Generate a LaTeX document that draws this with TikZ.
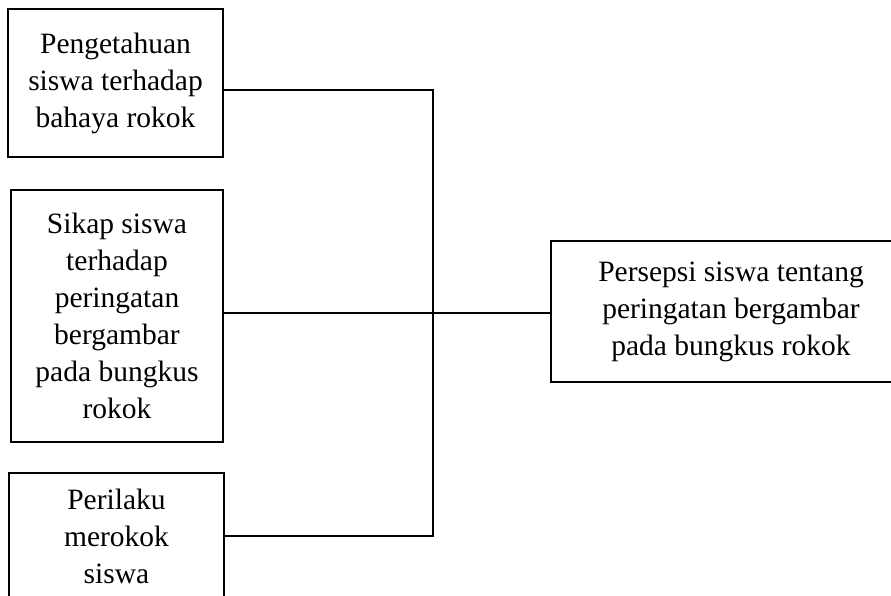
\documentclass[tikz,border=0pt]{standalone}
\usepackage{fontspec}
\setmainfont{Liberation Serif}
\begin{document}
\begin{tikzpicture}[x=1pt,y=-1pt,
  box/.style={draw,line width=1.2pt,align=center,inner sep=0pt,font=\fontsize{29.5}{37}\selectfont},
  conn/.style={line width=1.1pt}]
\useasboundingbox (0,0) rectangle (891,595);
\node[box, minimum width=215pt, minimum height=148pt] (b1) at (115.5,83) {Pengetahuan\\siswa terhadap\\bahaya rokok};
\node[box, minimum width=212pt, minimum height=252pt] (b2) at (117,316) {Sikap siswa\\terhadap\\peringatan\\bergambar\\pada bungkus\\rokok};
\node[box, minimum width=215pt, minimum height=126pt] (b3) at (116.5,536) {Perilaku\\merokok\\siswa};
\node[box, minimum width=360pt, minimum height=141pt] (b4) at (731,311.5) {Persepsi siswa tentang\\peringatan bergambar\\pada bungkus rokok};
\coordinate (jt) at (433,90);
\coordinate (jm) at (433,313);
\coordinate (jb) at (433,536);
\draw[conn] (b1.east |- jt) -- (jt) -- (jb) -- (b3.east |- jb);
\draw[conn] (b2.east |- jm) -- (b4.west |- jm);
\end{tikzpicture}
\end{document}
